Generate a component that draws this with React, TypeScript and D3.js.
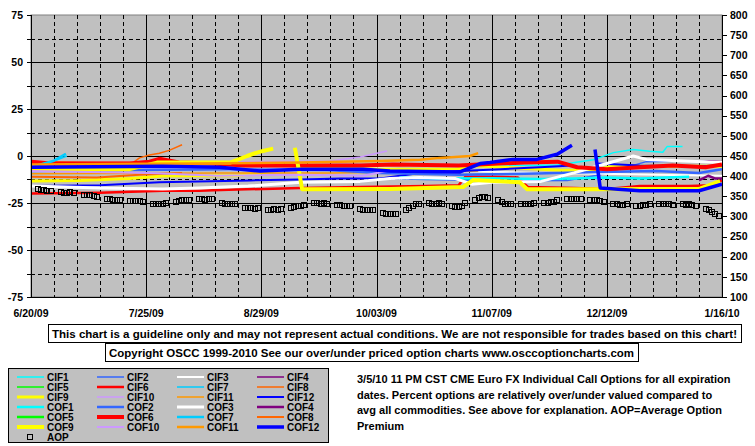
import React from "react";
import * as d3 from "d3";

// ---------- data ----------
const X_TICK_LABELS = ["6/20/09", "7/25/09", "8/29/09", "10/03/09", "11/07/09", "12/12/09", "1/16/10"];
const X_TICK_DAYS = [0, 35, 70, 105, 140, 175, 210]; // days since 6/20/09
const LEFT_TICKS = [75, 50, 25, 0, -25, -50, -75];
const RIGHT_TICKS = [800, 750, 700, 650, 600, 550, 500, 450, 400, 350, 300, 250, 200, 150, 100];

const SERIES_NAMES = [
  "CIF1", "CIF2", "CIF3", "CIF4", "CIF5", "CIF6", "CIF7", "CIF8", "CIF9", "CIF10", "CIF11", "CIF12",
  "COF1", "COF2", "COF3", "COF4", "COF5", "COF6", "COF7", "COF8", "COF9", "COF10", "COF11", "COF12",
];
const SERIES_COLORS = [
  "#00FFFF", "#3366FF", "#FFFFFF", "#800080", "#00FF00", "#FF0000", "#00CCFF", "#FF6600", "#FFFF00", "#CC99FF", "#FF9900", "#0000FF",
  "#00FFFF", "#3366FF", "#FFFFFF", "#800080", "#00FF00", "#FF0000", "#00CCFF", "#FF6600", "#FFFF00", "#CC99FF", "#FF9900", "#0000FF",
];
const SERIES_WIDTHS = [
  1.5, 1.5, 2, 1.5, 1.5, 2.5, 1.5, 1.5, 3, 1.5, 1.5, 2,
  2.5, 2.5, 3, 2.5, 2.5, 4, 2.5, 2, 4, 2, 2.5, 3.5,
];

// [days since 6/20/09, percent]  (null = gap)
const CIF1 = [[133, -5.5], [137, -4.5], [150, -5], [160, -4.8], [171, -2], [177, 1.8], [183, 3.5], [188, 2.5], [192, 2], [193.3, 5], [198, 5]];
const CIF2 = [[106, -12], [120, -12.5], [138.6, -13], [150, -13.2], [163, -13], [173, -10], [187, -3], [200, -2.7], [210, -3]];
const CIF3 = [[0, -7], [20, -6.8], [40, -6.5], [60, -7.2], [80, -7], [106, -6.5], [120, -7.5], [130, -8], [155, -9], [173, -9.5], [190, -10], [210, -10.5]];
const CIF4 = [[203, -3.5], [206, -2.5], [210, -3]];
const CIF5: number[][] = [];
const CIF6 = [[0, -20], [21, -19.5], [40, -18.5], [51, -18.5], [60, -18], [82, -17], [100, -16.5], [120, -16], [130, -15.5], [132, -11], [140, -11], [148, -11.5], [151, -16.5], [165, -17], [175, -17.5], [185, -16], [200, -16], [207, -15.5], [210, -13]];
const CIF7 = [[3, -4.5], [6, -3.5], [8, -2], [10.9, 0]];
const CIF8 = [[0, -3], [20, -3.5], [31, -3.5], [33, -1], [36, 0.5], [39, 1.5], [42, 3], [45.9, 6]];
const CIF9 = [[0, -13.3], [15, -13], [30, -12], [40, -10.7], [51, -10.5], [62, -10.5], [70, -9], [73.6, -8], [77, null], [81, -6], [106, -7], [129.5, -7], [133.4, -5.3], [136.5, -5.3], [160.8, -7.6], [170.8, -7.6], [176.9, -5.5], [210, -5.5]];
const CIF10 = [[0, -6], [36, -5], [64.4, -3], [80, -2.8], [90.9, -2.6], [100, -0.5], [108.2, 2.7]];
const CIF11 = [[0, -9.5], [57.4, -9], [90.9, -9], [112, -8.5], [135.9, -8]];
const CIF12 = [[0, -16], [21, -15.5], [39, -14], [66.6, -13], [81.8, -12.5], [93.9, -12], [106.1, -12], [118.2, -9], [130.4, -8], [142.6, -7], [154.7, -6], [164.4, -5], [168, null], [172, -4], [185, -5], [203, -5.5], [210, -5]];
const COF1 = [[112, -11.5], [125, -12], [140, -11.8], [155, -12.2], [165, -12], [175, -11.5], [185, -12], [193, -11.5], [200, -11]];
const COF2 = [[0, -8], [30, -7.5], [60, -7], [90, -7.5], [106, -9], [130, -10], [150, -9.5], [173, -8.5], [190, -8], [203, -9], [210, -7]];
const COF3 = [[0, -16], [21, -17], [40, -17.5], [51, -17], [66, -16], [82, -14], [100, -13.5], [109, -12], [118, -11.5], [129, -12], [134, -15], [140, -14], [155, -13.5], [165, -9], [171, -6], [183, 0], [187, -1.8], [210, -3.5]];
const COF4 = [[203, -13], [205.8, -10.5], [208, -12], [210, -12]];
const COF5: number[][] = [];
const COF6 = [[0, -3], [6, -4], [30, -4], [36, -3], [39, -1.5], [45, -3.5], [55, -4], [65, -5], [100, -5], [110, -4.5], [130, -5], [142, -4], [150, -3.5], [160, -3], [166, -6], [175, -7], [185, -6], [195, -5], [205, -6], [210, -4.5]];
const COF7 = [[1.2, -5.3], [4, -4], [7, -2.5], [10.6, 1.2]];
const COF8 = [[0, -11], [20, -11.5], [33, -10], [45.9, -9]];
const COF9 = [[0, -7], [30, -7], [38.3, -3.5], [60.5, -3.5], [65.7, 0], [68.7, 1.8], [70.5, 2.7], [73.6, 3.9], [77, null], [80.2, 4.4], [82.4, -17.7], [109, -17.5], [131.3, -16.5], [134.3, -12.8], [148.6, -14], [150.8, -17.7], [170.8, -17.7], [203.3, -17.4], [209.4, -13.3]];
const COF10 = [[0, -8], [36, -9], [56.5, -10.5], [82, -10], [100.9, -10.5], [108.2, -8]];
const COF11 = [[0, -4.5], [48.3, -4], [81.8, -3.5], [106.1, -2.7], [118.2, -2], [124.3, -1], [133.4, 0], [135.9, 1.5]];
const COF12 = [[0, -6], [40, -5.5], [57.4, -6], [69.6, -8], [81.8, -7], [100.9, -7], [109.1, -8], [130.4, -8.5], [136.5, -4], [139.5, -3.5], [146.5, -1.8], [153.8, -1.8], [159.9, 0.9], [164.4, 5.7], [168, null], [171.4, 3.5], [173, -17], [185, -18.5], [203, -18.5], [210, -15]];

const SERIES_DATA = [CIF1, CIF2, CIF3, CIF4, CIF5, CIF6, CIF7, CIF8, CIF9, CIF10, CIF11, CIF12,
  COF1, COF2, COF3, COF4, COF5, COF6, COF7, COF8, COF9, COF10, COF11, COF12];

// Average Option Premium, one value per trading day (Mon-Fri), 30 weeks
const AOP = [
  367, 366, 366, 364, 362,
  361, 359, 359, 360, 358,
  354, 352, 352, 350, 347,
  344, 343, 342, 341, 340,
  339, 339, 338, 339, 337,
  332, 330, 331, 331, 333,
  336, 339, 341, 342, 342,
  343, 343, 342, 344, 343,
  334, 332, 332, 331, 330,
  322, 320, 320, 319, 320,
  317, 317, 318, 317, 318,
  322, 324, 325, 327, 329,
  333, 333, 332, 333, 330,
  329, 328, 326, 326, 327,
  318, 317, 316, 317, 316,
  309, 307, 306, 306, 307,
  316, 320, 326, 330, 331,
  333, 332, 332, 333, 331,
  325, 324, 323, 325, 334,
  340, 346, 348, 349, 346,
  342, 336, 331, 330, 330,
  331, 330, 330, 332, 334,
  334, 334, 335, 336, 340,
  344, 344, 343, 344, 343,
  341, 340, 340, 338, 337,
  331, 330, 328, 329, 330,
  326, 327, 328, 329, 330,
  330, 331, 330, 330, 329,
  330, 329, 330, 329, 326,
  318, 315, 310, 305, 300,
];
const AOP_DAYS = AOP.map((_, i) => Math.floor(i / 5) * 7 + 2 + (i % 5));

const DISCLAIMER = "This chart is a guideline only and may not represent actual conditions. We are not responsible for trades based on this chart!";
const COPYRIGHT = "Copyright OSCC 1999-2010 See our over/under priced option charts www.osccoptioncharts.com";
const DESCRIPTION = [
  "3/5/10 11 PM CST CME Euro FX Individual Call Options for all expiration",
  "dates. Percent options are relatively over/under valued compared to",
  "avg all commodities. See above for explanation. AOP=Average Option",
  "Premium",
];

// ---------- layout ----------
const W = 755, H = 446;
const PL = 31, PR = 722, PT = 15, PB = 297;
const FONT = "'Liberation Sans', Arial, sans-serif";

export default function App() {
  const x = d3.scaleLinear().domain([0, 210]).range([PL, PR]);
  const yL = d3.scaleLinear().domain([-75, 75]).range([PB, PT]);
  const yR = d3.scaleLinear().domain([100, 800]).range([PB, PT]);

  const line = d3.line<any>()
    .defined((d) => d[1] !== null && d[1] !== undefined)
    .x((d) => x(d[0]))
    .y((d) => yL(d[1]));

  const hGrid = d3.range(-62.5, 75, 12.5);
  const vGrid = d3.range(7, 210, 7);

  const legendRowY = (r: number) => 377 + r * 10;
  const legendColX = [17, 97, 177, 257];

  return (
    <svg width={W} height={H} style={{ position: "absolute", left: 0, top: 0, background: "#fff" }}
      fontFamily={FONT} fontWeight="bold">
      <rect x={0} y={0} width={W} height={H} fill="#fff" />
      <defs>
        <clipPath id="clip"><rect x={PL} y={PT} width={PR - PL} height={PB - PT} /></clipPath>
      </defs>
      {/* plot area */}
      <rect x={PL} y={PT} width={PR - PL} height={PB - PT} fill="#C0C0C0" stroke="#808080" strokeWidth={1} />
      {hGrid.map((v) => (
        <line key={"h" + v} x1={PL} x2={PR} y1={Math.round(yL(v)) + 0.5} y2={Math.round(yL(v)) + 0.5}
          stroke="#000" strokeWidth={1} strokeDasharray={v % 25 === 0 ? undefined : "4,3"} />
      ))}
      {vGrid.map((d) => (
        <line key={"v" + d} y1={PT} y2={PB} x1={Math.round(x(d)) + 0.5} x2={Math.round(x(d)) + 0.5}
          stroke="#000" strokeWidth={1} strokeDasharray={d % 35 === 0 ? undefined : "4,3"} />
      ))}
      {/* series */}
      <g clipPath="url(#clip)">
        {SERIES_DATA.map((data, i) =>
          data.length ? (
            <path key={SERIES_NAMES[i]} d={line(data as any) || ""} fill="none"
              stroke={SERIES_COLORS[i]} strokeWidth={SERIES_WIDTHS[i]} strokeLinejoin="round" />
          ) : null
        )}
        {AOP.map((v, i) => (
          <rect key={"a" + i} x={Math.round(x(AOP_DAYS[i])) - 2.5} y={Math.round(yR(v)) - 2.5} width={5} height={5}
            fill="none" stroke="#000" strokeWidth={1} />
        ))}
      </g>
      {/* axes */}
      <line x1={PL + 0.5} x2={PL + 0.5} y1={PT} y2={PB} stroke="#000" />
      <line x1={PR + 0.5} x2={PR + 0.5} y1={PT} y2={PB + 0.5} stroke="#000" />
      <line x1={PL} x2={PR + 1} y1={PB + 0.5} y2={PB + 0.5} stroke="#000" />
      {d3.range(-75, 76, 12.5).map((v) => (
        <line key={"lt" + v} x1={PL - 4} x2={PL} y1={Math.round(yL(v)) + 0.5} y2={Math.round(yL(v)) + 0.5} stroke="#000" />
      ))}
      {RIGHT_TICKS.map((v) => (
        <line key={"rt" + v} x1={PR} x2={PR + 5} y1={Math.round(yR(v)) + 0.5} y2={Math.round(yR(v)) + 0.5} stroke="#000" />
      ))}
      {LEFT_TICKS.map((v) => (
        <text key={"ll" + v} x={23} y={yL(v)} dy="0.35em" textAnchor="end" fontSize={10.5}>{v}</text>
      ))}
      {RIGHT_TICKS.map((v) => (
        <text key={"rl" + v} x={730} y={yR(v)} dy="0.35em" textAnchor="start" fontSize={10.5}>{v}</text>
      ))}
      {X_TICK_LABELS.map((t, i) => (
        <text key={"xl" + t} x={x(X_TICK_DAYS[i])} y={313} dy="0.35em" textAnchor="middle" fontSize={10.5}>{t}</text>
      ))}
      {/* disclaimer boxes */}
      <rect x={48.5} y={324.5} width={693} height={18} fill="#fff" stroke="#000" />
      <text x={52} y={338} fontSize={11.5} textLength={685} lengthAdjust="spacingAndGlyphs">{DISCLAIMER}</text>
      <rect x={105.5} y={343.5} width={533} height={18} fill="#fff" stroke="#000" />
      <text x={109} y={357} fontSize={11.5} textLength={525} lengthAdjust="spacingAndGlyphs">{COPYRIGHT}</text>
      {/* legend */}
      <rect x={8.5} y={368.5} width={320} height={74} fill="#C0C0C0" stroke="#000" />
      {SERIES_NAMES.map((n, i) => {
        const r = Math.floor(i / 4), c = i % 4;
        const ly = legendRowY(r);
        return (
          <g key={"lg" + n}>
            <line x1={legendColX[c]} x2={legendColX[c] + 27} y1={ly} y2={ly}
              stroke={SERIES_COLORS[i]} strokeWidth={SERIES_WIDTHS[i]} />
            <text x={legendColX[c] + 30} y={ly} dy="0.36em" fontSize={10}>{n}</text>
          </g>
        );
      })}
      <rect x={27.5} y={legendRowY(6) - 2.5} width={5} height={5} fill="none" stroke="#000" />
      <text x={47} y={legendRowY(6)} dy="0.36em" fontSize={10}>AOP</text>
      {/* description */}
      {DESCRIPTION.map((t, i) => (
        <text key={"d" + i} x={357} y={383 + i * 15.5} fontSize={11}>{t}</text>
      ))}
    </svg>
  );
}
